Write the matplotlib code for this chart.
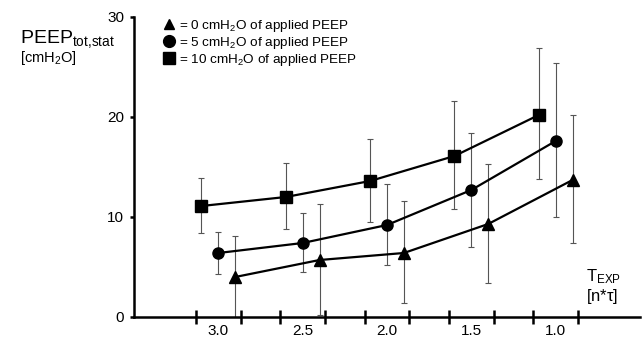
import matplotlib
matplotlib.use("Agg")
import matplotlib.pyplot as plt
from matplotlib.lines import Line2D
import numpy as np

plt.rcParams['font.family'] = ['Liberation Sans', 'DejaVu Sans']
plt.rcParams['mathtext.fontset'] = 'custom'
plt.rcParams['mathtext.rm'] = 'Liberation Sans'
plt.rcParams['mathtext.it'] = 'Liberation Sans'

# Data
t_exp = [3.0, 2.5, 2.0, 1.5, 1.0]
tick_labels = ["3.0", "2.5", "2.0", "1.5", "1.0"]

peep0_mean = [4.0, 5.7, 6.4, 9.3, 13.7]
peep0_lo = [0.0, 0.2, 1.4, 3.4, 7.4]
peep0_hi = [8.1, 11.3, 11.6, 15.3, 20.2]

peep5_mean = [6.4, 7.4, 9.2, 12.7, 17.6]
peep5_lo = [4.3, 4.5, 5.2, 7.0, 10.0]
peep5_hi = [8.5, 10.4, 13.3, 18.4, 25.4]

peep10_mean = [11.1, 12.0, 13.6, 16.1, 20.2]
peep10_lo = [8.4, 8.8, 9.5, 10.8, 13.8]
peep10_hi = [13.9, 15.4, 17.8, 21.6, 26.9]

labels = ["= 0 cmH$_2$O of applied PEEP",
          "= 5 cmH$_2$O of applied PEEP",
          "= 10 cmH$_2$O of applied PEEP"]

fig = plt.figure(figsize=(6.43, 3.38), dpi=100)
ax = fig.add_axes([134/643, 1-317/338, (640-134)/643, 300/338])

x = np.array(t_exp)
offset = 0.1
series = [
    (peep10_mean, peep10_lo, peep10_hi, 's', x + offset),
    (peep5_mean, peep5_lo, peep5_hi, 'o', x),
    (peep0_mean, peep0_lo, peep0_hi, '^', x - offset),
]
for mean, lo, hi, mk, xx in series:
    mean = np.array(mean); lo = np.array(lo); hi = np.array(hi)
    ax.errorbar(xx, mean, yerr=[mean - lo, hi - mean], fmt='none',
                ecolor='#555555', elinewidth=0.8, capsize=2, capthick=0.8, zorder=2)
    ax.plot(xx, mean, color='black', lw=1.6, marker=mk, ms=8, zorder=3)

ax.set_xlim(3.5, 0.5)
ax.set_ylim(0, 30)

for s in ['top', 'right']:
    ax.spines[s].set_visible(False)
ax.spines['left'].set_linewidth(1.8)
ax.spines['bottom'].set_linewidth(1.8)

edges = []
for c in t_exp:
    edges += [c + 0.133, c - 0.133]
ax.set_xticks(edges)
ax.set_xticklabels([''] * len(edges))
ax.tick_params(axis='x', which='major', direction='inout', length=10, width=1.8)
ax.set_xticks(t_exp, minor=True)
ax.set_xticklabels(tick_labels, minor=True, fontsize=11)
ax.tick_params(axis='x', which='minor', length=0, pad=5)

ax.set_yticks([0, 10, 20, 30])
ax.set_yticklabels(['0', '10', '20', '30'], fontsize=11)
ax.tick_params(axis='y', direction='out', length=3, width=1.8, pad=4)

fig.text(20/643, 1-39/338, r"PEEP$_\mathrm{tot{,}stat}$", fontsize=14, va='center', ha='left')
fig.text(20/643, 1-58/338, r"[cmH$_2$O]", fontsize=10.5, va='center', ha='left')

fig.text(586/643, 1-277/338, r"T$_\mathrm{EXP}$", fontsize=12, va='center', ha='left')
fig.text(586/643, 1-297/338, r"[n*$\mathrm{\tau}$]", fontsize=12, va='center', ha='left')

proxies = [Line2D([], [], color='black', marker='^', ls='none', ms=7.5),
           Line2D([], [], color='black', marker='o', ls='none', ms=8.5),
           Line2D([], [], color='black', marker='s', ls='none', ms=8)]
leg = ax.legend(proxies, labels, loc='upper left', bbox_to_anchor=(0.045, 1.02),
                frameon=False, fontsize=9.7, handlelength=0.8, handletextpad=0.35,
                labelspacing=0.08, borderpad=0)

fig.savefig("out.png", dpi=100)
